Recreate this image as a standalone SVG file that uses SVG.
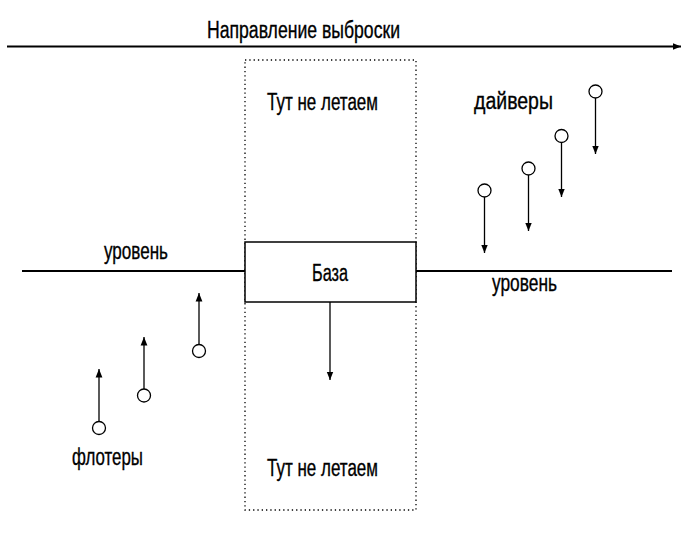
<svg xmlns="http://www.w3.org/2000/svg" width="700" height="551" viewBox="0 0 700 551">
<style>
text{font-family:"Liberation Sans","DejaVu Sans",sans-serif;font-size:23.5px;fill:#000;stroke:#000;stroke-width:0.35}
.ln{stroke:#000;stroke-width:1.8;fill:none}
.ar{stroke:#000;stroke-width:1.3;fill:none;marker-end:url(#ah)}
.ci{stroke:#000;stroke-width:1.3;fill:#fff}
</style>
<defs>
<marker id="ah" viewBox="0 0 10 10" refX="10" refY="5" markerWidth="8.5" markerHeight="8.5" markerUnits="userSpaceOnUse" orient="auto">
<path d="M0,1 L10,5 L0,9 Z" fill="#000"/>
</marker>
<marker id="ah2" viewBox="0 0 10 10" refX="10" refY="5" markerWidth="8.5" markerHeight="8.5" markerUnits="userSpaceOnUse" orient="auto">
<path d="M0,1 L10,5 L0,9 Z" fill="#000"/>
</marker>
</defs>
<rect width="700" height="551" fill="#fff"/>
<g id="zone">
<rect x="245" y="60" width="171" height="450" fill="none" stroke="#000" stroke-width="1.3" stroke-dasharray="1.3 3"/>
<text x="267" y="110" textLength="111" lengthAdjust="spacingAndGlyphs">Тут не летаем</text>
<text x="267" y="476" textLength="111" lengthAdjust="spacingAndGlyphs">Тут не летаем</text>
</g>
<g id="title">
<text x="207" y="38" textLength="193" lengthAdjust="spacingAndGlyphs">Направление выброски</text>
</g>
<g id="connectors">
<line x1="7" y1="46.5" x2="681" y2="46.5" class="ln" stroke-width="1.6" marker-end="url(#ah2)"/>
<line x1="22" y1="271" x2="245" y2="271" class="ln"/>
<line x1="416" y1="271" x2="672" y2="271" class="ln"/>
<line x1="330" y1="302" x2="330" y2="380" class="ar"/>
<line x1="484.5" y1="197" x2="484.5" y2="253" class="ar"/>
<line x1="528.5" y1="175" x2="528.5" y2="231" class="ar"/>
<line x1="561.5" y1="142.5" x2="561.5" y2="197" class="ar"/>
<line x1="595.5" y1="98" x2="595.5" y2="154" class="ar"/>
<line x1="99" y1="421" x2="99" y2="369" class="ar"/>
<line x1="144" y1="389" x2="144" y2="337" class="ar"/>
<line x1="199" y1="344.5" x2="199" y2="293" class="ar"/>
</g>
<g id="base">
<rect x="245" y="242" width="171" height="60" fill="#fff" stroke="#000" stroke-width="1.5"/>
<text x="312" y="281" textLength="36" lengthAdjust="spacingAndGlyphs">База</text>
</g>
<g id="divers">
<circle cx="484.5" cy="190.5" r="6.5" class="ci"/>
<circle cx="528.5" cy="168.5" r="6.5" class="ci"/>
<circle cx="561.5" cy="136" r="6.5" class="ci"/>
<circle cx="595.5" cy="91.5" r="6.5" class="ci"/>
<text x="474" y="109" textLength="79" lengthAdjust="spacingAndGlyphs">дайверы</text>
</g>
<g id="floaters">
<circle cx="99" cy="428" r="6.5" class="ci"/>
<circle cx="144" cy="395.5" r="6.5" class="ci"/>
<circle cx="199" cy="351" r="6.5" class="ci"/>
<text x="72" y="465" textLength="71" lengthAdjust="spacingAndGlyphs">флотеры</text>
</g>
<g id="level-left"><text x="104" y="259" textLength="64" lengthAdjust="spacingAndGlyphs">уровень</text></g>
<g id="level-right"><text x="492" y="291" textLength="65" lengthAdjust="spacingAndGlyphs">уровень</text></g>
</svg>
